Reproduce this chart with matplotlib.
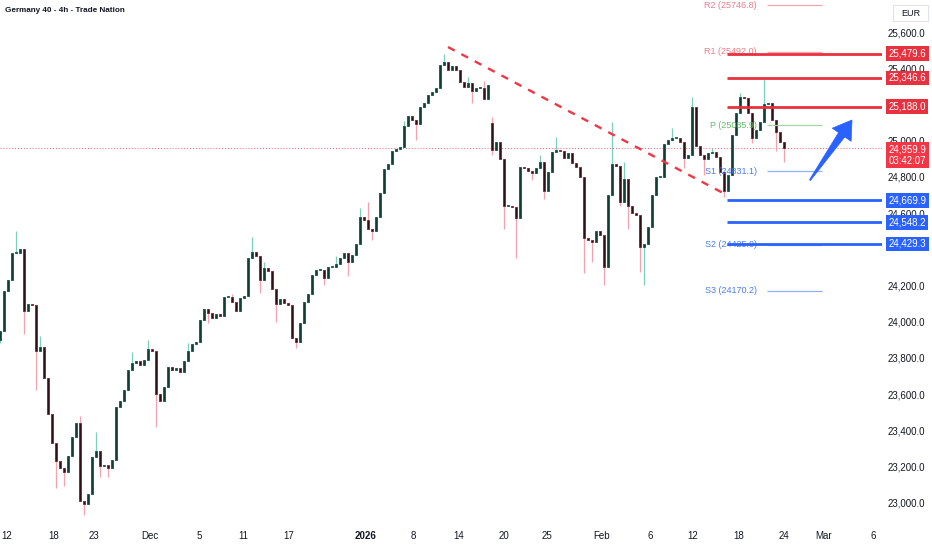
import matplotlib
matplotlib.use('Agg')
import matplotlib.pyplot as plt
import matplotlib.transforms as mtransforms
from matplotlib.patches import Polygon, Rectangle
import numpy as np

plt.rcParams['font.family'] = ['Liberation Sans', 'DejaVu Sans']

# ---- price data (4h candles, closes) ----
closes = [
    23950, 24170, 24230, 24380, 24380, 24400, 24060, 24100, 24090, 23840,
    23860, 23690, 23490, 23330, 23230, 23190, 23170, 23255, 23360, 23440,
    23010, 22990, 23050, 23250, 23285, 23200, 23210, 23190, 23235, 23530,
    23560, 23620, 23730, 23770, 23780, 23760, 23790, 23850, 23840, 23600,
    23560, 23640, 23750, 23735, 23745, 23720, 23780, 23840, 23875, 23890,
    24010, 24070, 24050, 24020, 24040, 24030, 24135, 24135, 24110, 24060,
    24130, 24140, 24350, 24385, 24360, 24230, 24295, 24280, 24180, 24100,
    24125, 24105, 24090, 23910, 23890, 23990, 24110, 24150, 24255, 24285,
    24285, 24240, 24300, 24300, 24320, 24350, 24380, 24330, 24370, 24430,
    24580, 24560, 24510, 24500, 24580, 24710, 24845, 24870, 24940, 24955,
    24965, 25080, 25135, 25115, 25090, 25185, 25210, 25250, 25270, 25290,
    25420, 25435, 25390, 25410, 25390, 25325, 25295, 25320, 25275, 25290,
    25290, 25230, 25305, 24950, 24990, 24900, 24640, 24640, 24635, 24570,
    24855, 24850, 24830, 24820, 24850, 24880, 24720, 24825, 24935, 24950,
    24945, 24905, 24930, 24875, 24855, 24800, 24460, 24450, 24440, 24500,
    24480, 24300, 24700, 24870, 24860, 24660, 24790, 24640, 24600, 24590,
    24410, 24430, 24525, 24700, 24800, 24800, 24980, 25005, 25015, 25015,
    24990, 24905, 24920, 25185, 24970, 24920, 24900, 24930, 24935, 24910,
    24825, 24720, 24810, 25030, 25150, 25240, 25235, 25150, 25015, 25060,
    25105, 25200, 25210, 25115, 25050, 24995, 24960,
]
first_open = 23900
gap_opens = {123: 25100}

wick_highs = {4: 24500, 10: 23920, 20: 23480, 24: 23390, 33: 23830, 37: 23900,
              47: 23880, 58: 24150, 63: 24470, 66: 24330, 84: 24360, 90: 24630,
              92: 24660, 101: 25110, 111: 25480, 117: 25350, 121: 25330,
              123: 25130, 135: 24920, 139: 25020, 153: 25105, 156: 24880,
              168: 25070, 173: 25240, 178: 24960, 185: 25265, 191: 25340,
              193: 25170}
wick_lows = {0: 23880, 6: 23930, 9: 23620, 14: 23080, 16: 23090, 21: 22930,
             25: 23140, 27: 23140, 39: 23420, 52: 23990, 65: 24160, 69: 24000,
             74: 23855, 81: 24200, 87: 24250, 93: 24450, 104: 25005, 118: 25210,
             123: 24920, 126: 24510, 129: 24350, 133: 24780, 136: 24680,
             146: 24270, 148: 24330, 151: 24200, 155: 24640, 157: 24510,
             160: 24275, 161: 24200, 171: 24850, 176: 24810, 181: 24690,
             188: 24985, 194: 24940, 196: 24880}

date_ticks = [1.75, 13.5, 23.5, 37.5, 49.75, 60.75, 72.25, 91.5, 103.25, 114.75,
              126, 136.75, 150.5, 162.5, 173.25, 184.75, 196, 206, 218.25]
date_labels = ['12', '18', '23', 'Dec', '5', '11', '17', '2026', '8', '14',
               '20', '25', 'Feb', '6', '12', '18', '24', 'Mar', '6']
price_ticks = [23000, 23200, 23400, 23600, 23800, 24000, 24200, 24600,
               24800, 25000, 25400, 25600]

resistance_levels = [25479.6, 25346.6, 25188.0]
support_levels = [24669.9, 24548.2, 24429.3]
pivot_names = ['R2', 'R1', 'P', 'S1', 'S2', 'S3']
pivot_values = [25746.8, 25492.0, 25085.9, 24831.1, 24425.0, 24170.2]
last_price = 24959.9
countdown = '03:42:07'
trend_x = [112, 181.75]
trend_y = [25517, 24699]
arrow_from = (202.5, 24782)
arrow_to = (213, 25114)

RED = '#f23645'
BLUE = '#2962ff'
TXT = '#131722'

fig = plt.figure(figsize=(9.32, 5.5), dpi=100)
ax = fig.add_axes([0, 30 / 550, 882 / 932, 520 / 550])
ax.set_xlim(0, 220.5)
ax.set_ylim(22904, 25777)

# ---- candles ----
x = np.arange(len(closes))
opens = [first_open] + closes[:-1]
for k, v in gap_opens.items():
    opens[k] = v
opens = np.array(opens, dtype=float)
cl = np.array(closes, dtype=float)
up = cl >= opens
body_lo = np.minimum(opens, cl)
body_h = np.maximum(np.abs(cl - opens), 6)
highs = np.array([wick_highs.get(i, max(opens[i], cl[i])) for i in x])
lows = np.array([wick_lows.get(i, min(opens[i], cl[i])) for i in x])

ax.vlines(x[up], lows[up], highs[up], color='#7fcdbb', lw=0.9, zorder=2)
ax.vlines(x[~up], lows[~up], highs[~up], color='#f2a3ad', lw=0.9, zorder=2)
ax.bar(x[up], body_h[up], bottom=body_lo[up], width=0.74, color='#123f35',
       edgecolor='#0f5a4a', linewidth=0.6, zorder=3)
ax.bar(x[~up], body_h[~up], bottom=body_lo[~up], width=0.74, color='#2e1216',
       edgecolor='#84202c', linewidth=0.6, zorder=3)

# ---- current price line ----
ax.axhline(last_price, color=RED, lw=0.7, ls=(0, (1, 2)), alpha=0.8, zorder=1)

# ---- trendline ----
ax.plot(trend_x, trend_y, color=RED, lw=1.7, ls=(0, (3.2, 3.2)), zorder=4)

# ---- pivot levels ----
pivot_colors = {'R': ('#f4a6ae', '#ef7b88'), 'P': ('#a5d6a7', '#66bb6a'),
                'S': ('#90b0f5', '#4a7cf0')}
for name, val in zip(pivot_names, pivot_values):
    lc, tc = pivot_colors[name[0]]
    ax.hlines(val, 191.75, 205.5, color=lc, lw=0.9, zorder=4)
    ax.text(189.25, val, f'{name} ({val:.1f})', ha='right', va='center',
            fontsize=6.5, color=tc, zorder=4)

# ---- key levels with right-hand labels ----
ytr = ax.get_yaxis_transform()
for lvl, col in [(v, '#e8313f') for v in resistance_levels] + \
                [(v, BLUE) for v in support_levels]:
    ax.hlines(lvl, 181.75, 220.5, color=col, lw=2, zorder=5)
    ax.text(1.0075, lvl, f'{lvl:,.1f}', transform=ytr, ha='left', va='center',
            color='white', fontsize=7, clip_on=False, zorder=6,
            bbox=dict(boxstyle='square,pad=0.24', fc=col, ec='none'))

last_tr = mtransforms.offset_copy(ytr, fig=fig, y=3.5, units='dots')
ax.text(1.0075, last_price, f'{last_price:,.1f}\n{countdown}', transform=last_tr,
        ha='left', va='top', color='white', fontsize=7, linespacing=1.15,
        clip_on=False, zorder=6,
        bbox=dict(boxstyle='square,pad=0.24', fc=RED, ec='none'))

# ---- axes styling ----
ax.yaxis.tick_right()
ax.set_yticks(price_ticks)
ax.set_yticklabels([f'{v:,.1f}' for v in price_ticks])
ax.set_xticks(date_ticks)
ax.set_xticklabels(date_labels)
for lab in ax.get_xticklabels():
    if lab.get_text() == '2026':
        lab.set_fontweight('bold')
ax.tick_params(axis='both', length=0, labelsize=7, colors=TXT)
ax.tick_params(axis='y', pad=4)
ax.tick_params(axis='x', pad=8)
for sp in ax.spines.values():
    sp.set_visible(False)

# ---- blue arrow ----
p0 = ax.transData.transform(arrow_from)
p1 = ax.transData.transform(arrow_to)
u = (p1 - p0) / np.hypot(*(p1 - p0))
n = np.array([-u[1], u[0]])
base = p1 - u * 18
verts = [p0 + n * 0.6, base + n * 3.8, base + n * 11.5, p1,
         base - n * 11.5, base - n * 3.8, p0 - n * 0.6]
fig.add_artist(Polygon(verts, closed=True, fc=BLUE, ec=BLUE, lw=0.5,
                       transform=mtransforms.IdentityTransform(), zorder=7))

# ---- header / currency box ----
fig.text(5 / 932, 1 - 11 / 550, 'Germany 40 - 4h - Trade Nation', fontsize=5.9,
         fontweight='bold', color=TXT, va='center', ha='left')
fig.add_artist(Rectangle((893 / 932, 1 - 21 / 550), 35 / 932, 16 / 550,
                         transform=fig.transFigure, fc='white', ec='#e0e3eb', lw=0.8))
fig.text(910.5 / 932, 1 - 13 / 550, 'EUR', fontsize=6.5, color=TXT,
         ha='center', va='center')

fig.savefig('out.png', dpi=100)
